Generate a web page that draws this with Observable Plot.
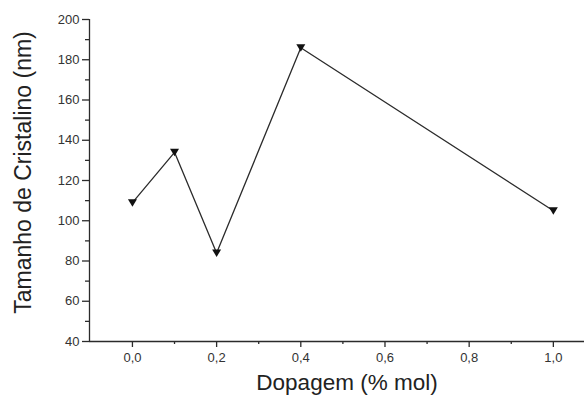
<!DOCTYPE html>
<html>
<head>
<meta charset="utf-8">
<script src="https://cdn.jsdelivr.net/npm/d3@7"></script>
<script src="https://cdn.jsdelivr.net/npm/@observablehq/plot@0.6"></script>
<style>
  html, body { margin: 0; padding: 0; background: #fff; }
  #chart svg { display: block; }
</style>
</head>
<body>
<div id="chart"></div>
<script>
const dopagem = [0.0, 0.1, 0.2, 0.4, 1.0];
const tamanho = [109, 134, 84, 186, 105];

const xTicks = [0.0, 0.2, 0.4, 0.6, 0.8, 1.0];
const xTickLabels = ["0,0", "0,2", "0,4", "0,6", "0,8", "1,0"];
const xMinorTicks = [0.1, 0.3, 0.5, 0.7, 0.9];
const yTicks = [40, 60, 80, 100, 120, 140, 160, 180, 200];
const yMinorTicks = [50, 70, 90, 110, 130, 150, 170, 190];

const xLabel = "Dopagem (% mol)";
const yLabel = "Tamanho de Cristalino (nm)";

const data = dopagem.map((x, i) => ({x, y: tamanho[i]}));

const triDown = {
  draw(ctx) {
    ctx.moveTo(-4.5, -3.5);
    ctx.lineTo(4.5, -3.5);
    ctx.lineTo(0, 4);
    ctx.closePath();
  }
};

const ink = "#2b2b2b";
const font = "'Liberation Sans', Arial, Helvetica, sans-serif";

const chart = Plot.plot({
  width: 584,
  height: 396,
  marginLeft: 89,
  marginRight: 0,
  marginTop: 19,
  marginBottom: 55,
  style: {fontFamily: font, background: "#fff", color: ink},
  x: {domain: [-0.102, 1.074], axis: null},
  y: {domain: [40, 200], axis: null},
  marks: [
    Plot.ruleY([40], {stroke: ink, strokeWidth: 1.3}),
    Plot.ruleX([-0.102], {y1: 40, y2: 200, stroke: ink, strokeWidth: 1.3}),
    Plot.axisX(xTicks, {
      tickSize: 6, tickPadding: 5, label: null, fontSize: 13,
      stroke: ink, strokeWidth: 1.3, fill: "#333",
      tickFormat: d => xTickLabels[xTicks.indexOf(d)]
    }),
    Plot.axisX(xMinorTicks, {tickSize: 3, label: null, stroke: ink, strokeWidth: 1.3, tickFormat: () => ""}),
    Plot.axisY(yTicks, {
      tickSize: 7, tickPadding: 3, label: null, fontSize: 13,
      stroke: ink, strokeWidth: 1.3, fill: "#333"
    }),
    Plot.axisY(yMinorTicks, {tickSize: 4, label: null, stroke: ink, strokeWidth: 1.3, tickFormat: () => ""}),
    Plot.line(data, {x: "x", y: "y", stroke: ink, strokeWidth: 1.3}),
    Plot.dot(data, {x: "x", y: "y", symbol: triDown, fill: "#111", stroke: "none"}),
    Plot.text([xLabel], {
      frameAnchor: "bottom", textAnchor: "middle", dx: 10, dy: 48, lineAnchor: "bottom",
      fontSize: 22.5, fill: "#222", text: d => d
    }),
    Plot.text([yLabel], {
      frameAnchor: "left", textAnchor: "middle", dx: -59, dy: -8, rotate: -90, lineAnchor: "bottom",
      fontSize: 23, fill: "#222", text: d => d
    })
  ]
});

document.getElementById("chart").appendChild(chart);
</script>
</body>
</html>
